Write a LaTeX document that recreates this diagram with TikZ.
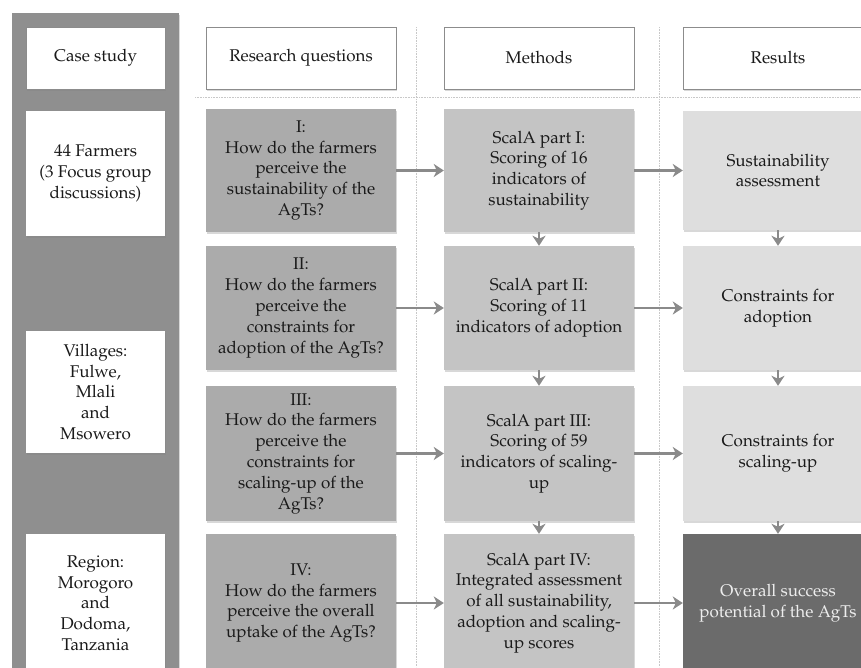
\documentclass[tikz,border=0pt]{standalone}
\usepackage[T1]{fontenc}
\usepackage{mathpazo}
\usetikzlibrary{arrows.meta,shadows}
\definecolor{colbg}{HTML}{8F8F8F}
\definecolor{qfill}{HTML}{ABABAB}
\definecolor{mfill}{HTML}{C4C4C4}
\definecolor{rfill}{HTML}{DEDEDE}
\definecolor{ofill}{HTML}{6B6B6B}
\definecolor{arrcol}{HTML}{8A8A8A}
\definecolor{txt}{HTML}{1A1A1A}
\definecolor{dotcol}{HTML}{C8C8C8}
\tikzset{
  base/.style={rectangle, inner sep=0pt, align=center, text=txt,
    font=\fontsize{17}{20.8}\selectfont,
    drop shadow={shadow xshift=1.2pt, shadow yshift=-1.5pt, opacity=0.3}},
  headbox/.style={base, fill=white, draw=black!45, line width=0.8pt, minimum height=62pt},
  casebox/.style={base, fill=white, minimum width=139pt},
  qbox/.style={base, fill=qfill, minimum width=190pt},
  mbox/.style={base, fill=mfill, minimum width=190pt},
  rbox/.style={base, fill=rfill, minimum width=190pt},
  obox/.style={base, fill=ofill, text=white!93!black, minimum width=190pt},
  arr/.style={draw=arrcol, line width=2.8pt, -{Stealth[length=10pt, width=13pt, inset=3pt]}},
  guide/.style={draw=dotcol, line width=0.6pt, densely dotted}
}
\begin{document}
\begin{tikzpicture}[x=1pt, y=-1pt]
\useasboundingbox (0,0) rectangle (861,667);
\clip (0,0) rectangle (861,667);
\fill[white] (0,0) rectangle (861,667);

% left column background
\node[rectangle, inner sep=0pt, fill=colbg, minimum width=167pt, minimum height=700pt,
  drop shadow={shadow xshift=1.2pt, shadow yshift=-1.5pt, opacity=0.3}] (bgcol) at (95.5,363) {};

% guide lines
\coordinate (gh1) at (195,97);
\coordinate (gh2) at (861,97);
\coordinate (gv1a) at (416,27);
\coordinate (gv1b) at (416,667);
\coordinate (gv2a) at (659,27);
\coordinate (gv2b) at (659,667);
\draw[guide] (gh1) -- (gh2);
\draw[guide] (gv1a) -- (gv1b);
\draw[guide] (gv2a) -- (gv2b);

% headers
\node[headbox, minimum width=139pt] (hcase) at (95.5,58) {Case study};
\node[headbox, minimum width=190pt] (hrq) at (301,58) {Research questions};
\node[headbox, minimum width=190pt] (hm) at (539,58) {Methods};
\node[headbox, minimum width=190pt] (hr) at (778,58) {Results};

% case study column
\node[casebox, minimum height=125pt] (c1) at (95.5,173.5) {44 Farmers\\(3 Focus group\\discussions)};
\node[casebox, minimum height=122pt] (c2) at (95.5,392) {Villages:\\Fulwe,\\Mlali\\and\\Msowero};
\node[casebox, minimum height=138pt] (c3) at (95.5,603) {Region:\\Morogoro\\and\\Dodoma,\\Tanzania};

% research questions
\node[qbox, minimum height=123pt] (q1) at (301,170.5) {I:\\How do the farmers\\perceive the\\sustainability of the\\AgTs?};
\node[qbox, minimum height=124pt] (q2) at (301,308) {II:\\How do the farmers\\perceive the\\constraints for\\adoption of the AgTs?};
\node[qbox, minimum height=135pt] (q3) at (301,453.5) {III:\\How do the farmers\\perceive the\\constraints for\\scaling-up of the\\AgTs?};
\node[qbox, minimum height=138pt] (q4) at (301,603) {IV:\\How do the farmers\\perceive the overall\\uptake of the AgTs?};

% methods
\node[mbox, minimum height=123pt] (m1) at (539,170.5) {ScalA part I:\\Scoring of 16\\indicators of\\sustainability};
\node[mbox, minimum height=124pt] (m2) at (539,308) {ScalA part II:\\Scoring of 11\\indicators of adoption};
\node[mbox, minimum height=135pt] (m3) at (539,453.5) {ScalA part III:\\Scoring of 59\\indicators of scaling-\\up};
\node[mbox, minimum height=138pt] (m4) at (539,603) {ScalA part IV:\\Integrated assessment\\of all sustainability,\\adoption and scaling-\\up scores};

% results
\node[rbox, minimum height=119pt] (r1) at (778,170.5) {Sustainability\\assessment};
\node[rbox, minimum height=124pt] (r2) at (778,308) {Constraints for\\adoption};
\node[rbox, minimum height=135pt] (r3) at (778,453.5) {Constraints for\\scaling-up};
\node[obox, minimum height=138pt] (r4) at (778,603) {Overall success\\potential of the AgTs};

% arrows
\draw[arr] (q1) -- (m1);
\draw[arr] (q2) -- (m2);
\draw[arr] (q3) -- (m3);
\draw[arr] (q4) -- (m4);
\draw[arr] (m1) -- (r1);
\draw[arr] (m2) -- (r2);
\draw[arr] (m3) -- (r3);
\draw[arr] (m4) -- (r4);
\draw[arr] (m1) -- (m2);
\draw[arr] (m2) -- (m3);
\draw[arr] (m3) -- (m4);
\draw[arr] (r1) -- (r2);
\draw[arr] (r2) -- (r3);
\draw[arr] (r3) -- (r4);
\end{tikzpicture}
\end{document}
